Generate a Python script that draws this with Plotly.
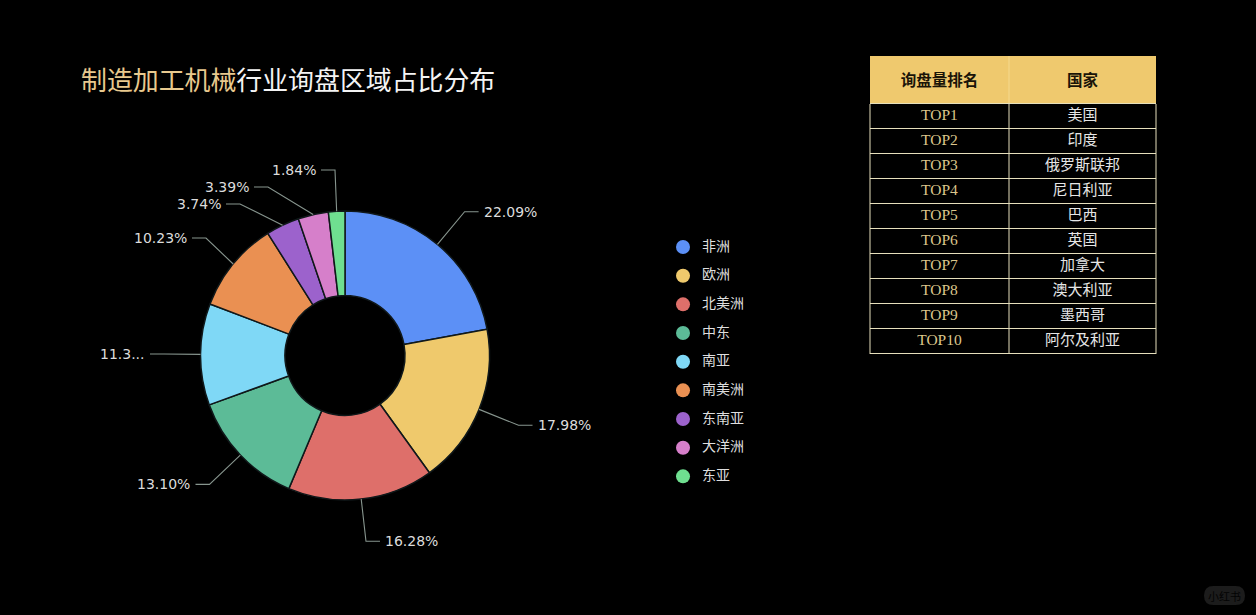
import math
import plotly.graph_objects as go

# ---- data ----
regions = ["非洲", "欧洲", "北美洲", "中东", "南亚", "南美洲", "东南亚", "大洋洲", "东亚"]
shares = [22.09, 17.98, 16.28, 13.10, 11.35, 10.23, 3.74, 3.39, 1.84]
share_labels = ["22.09%", "17.98%", "16.28%", "13.10%", "11.3...", "10.23%", "3.74%", "3.39%", "1.84%"]
colors = ["#5c90f6", "#efc96c", "#de6f6a", "#5cbb97", "#7fd8f6", "#ea9052", "#9c62cc", "#d67fca", "#6fdf90"]
rank_labels = ["TOP1", "TOP2", "TOP3", "TOP4", "TOP5", "TOP6", "TOP7", "TOP8", "TOP9", "TOP10"]
countries = ["美国", "印度", "俄罗斯联邦", "尼日利亚", "巴西", "英国", "加拿大", "澳大利亚", "墨西哥", "阿尔及利亚"]
table_headers = ["询盘量排名", "国家"]

W, H = 1256, 615
CX, CY, R = 345, 355.5, 144.5
CJK = "Noto Sans CJK SC"
LAT = "DejaVu Sans"
def px(x): return x / W
def py(y): return 1 - y / H

fig = go.Figure()

fig.add_trace(go.Pie(
    labels=regions, values=shares, sort=False, direction="clockwise", rotation=0,
    hole=60 / 144.5, textinfo="none", hoverinfo="label+percent", showlegend=False,
    marker=dict(colors=colors, line=dict(color="#10181a", width=1.5)),
    domain=dict(x=[px(CX - R), px(CX + R)], y=[py(CY + R), py(CY - R)]),
))

# Leader lines: anchors come from the values; a few elbows are moved to avoid label overlap
elbow_override = {"南亚": (164, 354), "南美洲": (206, 238), "东南亚": (240, 204),
                  "大洋洲": (268, 187), "东亚": (335, 170)}
shapes, annotations = [], []
total = sum(shares)
cum = 0
for name, val, lab in zip(regions, shares, share_labels):
    ang = 2 * math.pi * (cum + val / 2) / total
    cum += val
    s, c = math.sin(ang), math.cos(ang)
    ax, ay = CX + R * s, CY - R * c
    ex, ey = elbow_override.get(name, (CX + 187 * s, CY - 187 * c))
    sign = 1 if s > 0 else -1
    hx = ex + sign * 14
    shapes.append(dict(type="path", xref="paper", yref="paper",
                       path=f"M {px(ax)} {py(ay)} L {px(ex)} {py(ey)} L {px(hx)} {py(ey)}",
                       line=dict(color="#87958e", width=1.1)))
    annotations.append(dict(xref="paper", yref="paper", x=px(hx + sign * 3), y=py(ey), text=lab,
                            showarrow=False, xanchor="left" if sign > 0 else "right", yanchor="middle",
                            font=dict(family=LAT, size=14, color="#dcdcdc")))

# Legend built on a hidden axis so the round markers keep the reference spacing
y_pos = list(range(len(regions)))
fig.add_trace(go.Scatter(
    x=[0] * len(regions), y=y_pos, mode="markers", showlegend=False, hoverinfo="skip",
    marker=dict(size=14, color=colors, line=dict(width=0)), xaxis="x", yaxis="y"))
fig.add_trace(go.Scatter(
    x=[1] * len(regions), y=y_pos, mode="text", text=regions, textposition="middle right",
    showlegend=False, hoverinfo="skip", textfont=dict(family=CJK, size=14, color="#dedede"),
    xaxis="x", yaxis="y"))

# Ranking table: text on a hidden axis (column, row), grid and header fill as shapes behind it
T_L, T_M, T_R, T_T, T_H, ROW = 870, 1009, 1156, 56, 104, 25
n_rows = len(rank_labels)
T_B = T_H + ROW * n_rows
LINE = "#e6dfbc"
shapes.append(dict(type="rect", xref="paper", yref="paper", layer="below",
                   x0=px(T_L), x1=px(T_R), y0=py(T_H), y1=py(T_T),
                   fillcolor="#efc96e", line=dict(width=0)))
shapes.append(dict(type="line", xref="paper", yref="paper", layer="below",
                   x0=px(T_M), x1=px(T_M), y0=py(T_H), y1=py(T_T), line=dict(color="#f4d98e", width=1)))
for i in range(n_rows + 1):
    shapes.append(dict(type="line", xref="paper", yref="paper", layer="below",
                       x0=px(T_L), x1=px(T_R), y0=py(T_H + ROW * i - 0.5), y1=py(T_H + ROW * i - 0.5),
                       line=dict(color=LINE, width=1)))
for x in (T_L, T_M, T_R):
    shapes.append(dict(type="line", xref="paper", yref="paper", layer="below",
                       x0=px(x), x1=px(x), y0=py(T_B), y1=py(T_H), line=dict(color=LINE, width=1)))

rows = list(range(n_rows))
col_axis = dict(xaxis="x2", yaxis="y2", showlegend=False, hoverinfo="skip", mode="text")
fig.add_trace(go.Scatter(x=[0] * n_rows, y=rows, text=rank_labels, textposition="middle center",
                         textfont=dict(family="Liberation Serif", size=15.5, color="#dcc68c"), **col_axis))
fig.add_trace(go.Scatter(x=[1] * n_rows, y=rows, text=countries, textposition="middle center",
                         textfont=dict(family=CJK, size=15, color="#e6e6e6"), **col_axis))
fig.add_trace(go.Scatter(x=[0, 1], y=[-1.38, -1.38], text=[f"<b>{h}</b>" for h in table_headers],
                         textposition="middle center",
                         textfont=dict(family=CJK, size=15.5, color="#1a1408"), **col_axis))

# Faint platform watermark
x0, x1, y0, y1, r = px(1204), px(1245), py(605), py(586), 9.5
rx, ry = r / W, r / H
shapes.append(dict(type="path", xref="paper", yref="paper",
                   path=(f"M {x0 + rx} {y0} L {x1 - rx} {y0} Q {x1} {y0} {x1} {y0 + ry} "
                         f"Q {x1} {y1} {x1 - rx} {y1} L {x0 + rx} {y1} Q {x0} {y1} {x0} {y1 - ry} "
                         f"Q {x0} {y0} {x0 + rx} {y0} Z"),
                   fillcolor="#1c1c1c", line=dict(width=0)))
annotations.append(dict(xref="paper", yref="paper", x=px(1224.5), y=py(595.5), text="小红书", showarrow=False,
                        xanchor="center", yanchor="middle",
                        font=dict(family=CJK, size=11, color="#030303")))

fig.update_layout(
    width=W, height=H, margin=dict(l=0, r=0, t=0, b=0),
    paper_bgcolor="#000000", plot_bgcolor="rgba(0,0,0,0)",
    title=dict(text='<span style="color:#e8c98e">制造加工机械</span>行业询盘区域占比分布',
               x=px(81), y=py(81), xanchor="left", yanchor="middle", xref="paper", yref="paper",
               font=dict(family=CJK, size=25.9, color="#f4f4f4")),
    xaxis=dict(domain=[px(676), px(760)], range=[-7 / 19, 77 / 19], visible=False, fixedrange=True),
    yaxis=dict(domain=[py(490.7), py(232.7)], range=[8.5, -0.5], visible=False, fixedrange=True),
    xaxis2=dict(domain=[px(T_L), px(T_R)], anchor="y2",
                range=[(T_L - 939.5) / (1082.5 - 939.5), (T_R - 939.5) / (1082.5 - 939.5)],
                visible=False, fixedrange=True),
    yaxis2=dict(domain=[py(T_B), py(T_T)], anchor="x2",
                range=[(T_B - 116.5) / ROW, (T_T - 116.5) / ROW], visible=False, fixedrange=True),
    shapes=shapes, annotations=annotations,
)

fig.write_html("out.html", config=dict(displayModeBar=False),
               post_script="document.body.style.margin='0';document.body.style.background='#000';")
